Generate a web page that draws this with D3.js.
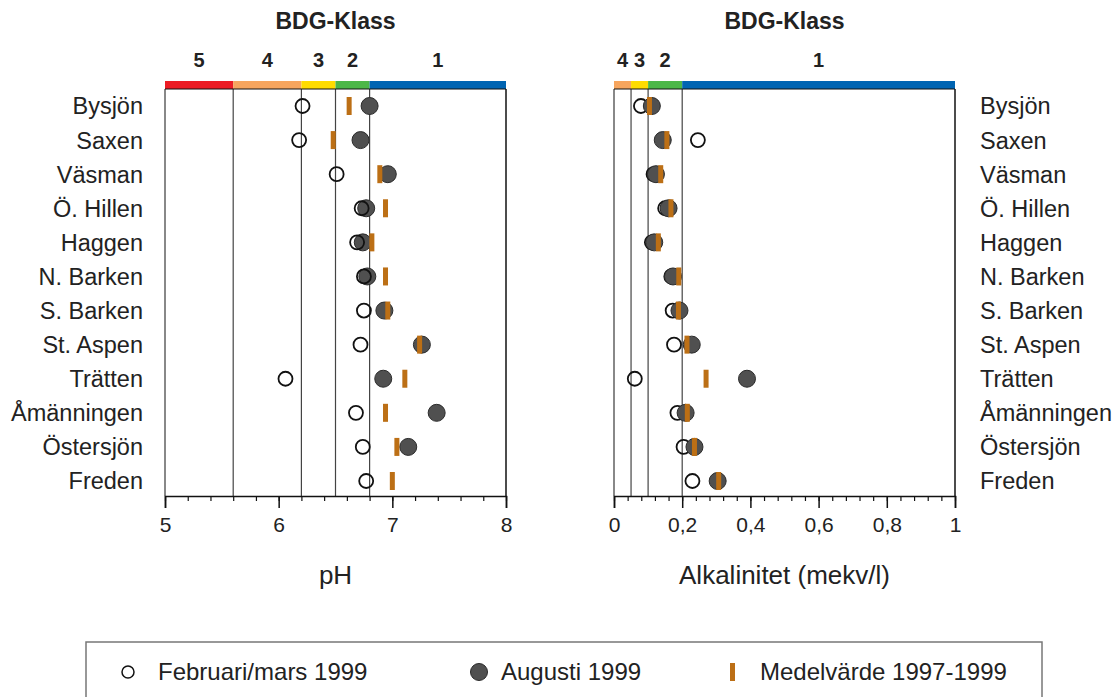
<!DOCTYPE html>
<html>
<head>
<meta charset="utf-8">
<script src="https://cdn.jsdelivr.net/npm/d3@7"></script>
<style>
  body { margin: 0; background: #fff; }
  svg text { font-family: "Liberation Sans", Arial, sans-serif; fill: #222; }
</style>
</head>
<body>
<svg id="chart" width="1119" height="697"></svg>
<script>
// Lakes, top to bottom
const lakes = ["Bysjön", "Saxen", "Väsman", "Ö. Hillen", "Haggen", "N. Barken",
  "S. Barken", "St. Aspen", "Trätten", "Åmänningen", "Östersjön", "Freden"];

// pH
const phFeb  = [6.21, 6.18, 6.51, 6.73, 6.69, 6.75, 6.75, 6.72, 6.06, 6.68, 6.74, 6.77];
const phAug  = [6.80, 6.72, 6.96, 6.77, 6.74, 6.78, 6.93, 7.26, 6.92, 7.39, 7.14, null];
const phMean = [6.62, 6.48, 6.89, 6.94, 6.82, 6.94, 6.96, 7.24, 7.11, 6.94, 7.04, 7.00];

// Alkalinity (mekv/l)
const alkFeb  = [0.079, 0.246, 0.116, 0.150, 0.111, 0.168, 0.172, 0.176, 0.061, 0.186, 0.204, 0.230];
const alkAug  = [0.111, 0.143, 0.123, 0.160, 0.118, 0.173, 0.192, 0.228, 0.390, 0.210, 0.236, 0.304];
const alkMean = [0.104, 0.155, 0.137, 0.167, 0.130, 0.190, 0.189, 0.214, 0.270, 0.215, 0.236, 0.307];

// BDG class bands
const phClasses  = [{k: "5", from: 5.0, to: 5.6}, {k: "4", from: 5.6, to: 6.2}, {k: "3", from: 6.2, to: 6.5},
                    {k: "2", from: 6.5, to: 6.8}, {k: "1", from: 6.8, to: 8.0}];
const alkClasses = [{k: "4", from: 0, to: 0.05}, {k: "3", from: 0.05, to: 0.1}, {k: "2", from: 0.1, to: 0.2},
                    {k: "1", from: 0.2, to: 1.0}];
const classColors = {"5": "#ec1c24", "4": "#f6a55e", "3": "#ffdc00", "2": "#4cb748", "1": "#0064b2"};

const phTicks  = [5, 6, 7, 8];
const alkTicks = [0, 0.2, 0.4, 0.6, 0.8, 1];
const legendItems = ["Februari/mars 1999", "Augusti 1999", "Medelvärde 1997-1999"];

const svg = d3.select("#chart");
const plotTop = 89, plotBottom = 496;
const y = d3.scalePoint().domain(lakes).range([106, 481]);

const fillDark = "#505050", strokeDark = "#2b2b2b", barColor = "#bc6f15";

function panel(opts) {
  const x = d3.scaleLinear().domain(opts.domain).range(opts.range);
  const g = svg.append("g");
  const cx = (opts.range[0] + opts.range[1]) / 2;

  // title and class numbers
  g.append("text").attr("x", cx).attr("y", 29).attr("text-anchor", "middle")
    .attr("font-size", 23).attr("font-weight", "bold").text("BDG-Klass");
  g.selectAll("text.cls").data(opts.classes).join("text").attr("class", "cls")
    .attr("x", d => (x(d.from) + x(d.to)) / 2).attr("y", 67).attr("text-anchor", "middle")
    .attr("font-size", 20).attr("font-weight", "bold").text(d => d.k);

  // class colour bar
  g.selectAll("rect.band").data(opts.classes).join("rect").attr("class", "band")
    .attr("x", d => x(d.from)).attr("width", d => x(d.to) - x(d.from))
    .attr("y", 81).attr("height", 8).attr("fill", d => classColors[d.k]);

  // class boundaries
  g.selectAll("line.bound").data(opts.classes.slice(1)).join("line").attr("class", "bound")
    .attr("x1", d => x(d.from)).attr("x2", d => x(d.from))
    .attr("y1", plotTop).attr("y2", plotBottom).attr("stroke", "#444").attr("stroke-width", 1.2);

  // frame edges
  g.append("line").attr("x1", opts.range[0]).attr("x2", opts.range[0]).attr("y1", plotTop).attr("y2", plotBottom)
    .attr("stroke", "#888").attr("stroke-width", 2);
  g.append("line").attr("x1", opts.range[1]).attr("x2", opts.range[1]).attr("y1", plotTop).attr("y2", plotBottom)
    .attr("stroke", "#111").attr("stroke-width", 1.5);
  g.append("line").attr("x1", opts.range[0]).attr("x2", opts.range[1]).attr("y1", plotTop).attr("y2", plotTop)
    .attr("stroke", "#111").attr("stroke-width", 1);

  // x axis: minor ticks, then major ticks with labels
  const minorAxis = g.append("g").attr("transform", `translate(0,${plotBottom})`)
    .call(d3.axisBottom(x).tickValues(opts.minor).tickSize(5).tickFormat(""));
  minorAxis.select(".domain").remove();
  minorAxis.selectAll(".tick line").attr("stroke", "#111").attr("stroke-width", 1.2);
  const major = g.append("g").attr("transform", `translate(0,${plotBottom})`)
    .call(d3.axisBottom(x).tickValues(opts.ticks).tickSize(12).tickPadding(9).tickFormat(opts.fmt));
  major.select(".domain").attr("stroke", "#111").attr("stroke-width", 1.5);
  major.selectAll(".tick line").attr("stroke", "#111").attr("stroke-width", 1.5);
  major.selectAll(".tick text").attr("font-size", 21).attr("fill", "#222")
    .attr("font-family", "Liberation Sans, Arial, sans-serif");

  g.append("text").attr("x", cx).attr("y", 584).attr("text-anchor", "middle")
    .attr("font-size", 26).text(opts.title);

  // lake names
  g.selectAll("text.lake").data(lakes).join("text").attr("class", "lake")
    .attr("x", opts.labelX).attr("y", d => y(d)).attr("dy", "0.36em")
    .attr("text-anchor", opts.labelAnchor).attr("font-size", 23.5).text(d => d);

  const rows = lakes.map((l, i) => ({lake: l, feb: opts.feb[i], aug: opts.aug[i], mean: opts.mean[i]}));

  const drawOpen = () => g.selectAll("circle.feb").data(rows.filter(d => d.feb != null)).join("circle")
    .attr("class", "feb").attr("cx", d => x(d.feb)).attr("cy", d => y(d.lake)).attr("r", 7)
    .attr("fill", "none").attr("stroke", "#111").attr("stroke-width", 1.8);
  const drawFilled = () => g.selectAll("circle.aug").data(rows.filter(d => d.aug != null)).join("circle")
    .attr("class", "aug").attr("cx", d => x(d.aug)).attr("cy", d => y(d.lake)).attr("r", 8.5)
    .attr("fill", fillDark).attr("stroke", strokeDark).attr("stroke-width", 1);

  if (opts.openOnTop) { drawFilled(); drawOpen(); } else { drawOpen(); drawFilled(); }

  g.selectAll("rect.mean").data(rows).join("rect").attr("class", "mean")
    .attr("x", d => x(d.mean) - 2.5).attr("y", d => y(d.lake) - 9)
    .attr("width", 5).attr("height", 18).attr("fill", barColor);
}

const comma = d3.formatLocale({decimal: ",", thousands: " ", grouping: [3], currency: ["", ""]});

panel({
  domain: [5, 8], range: [165, 506], classes: phClasses, ticks: phTicks,
  minor: d3.range(5, 8.0001, 0.2), fmt: d3.format("d"), title: "pH",
  labelX: 143, labelAnchor: "end", feb: phFeb, aug: phAug, mean: phMean, openOnTop: true
});
panel({
  domain: [0, 1], range: [614, 955], classes: alkClasses, ticks: alkTicks,
  minor: d3.range(0, 1.0001, 0.04), fmt: d => (d === 0 || d === 1) ? String(d) : comma.format(".1f")(d),
  title: "Alkalinitet (mekv/l)",
  labelX: 980, labelAnchor: "start", feb: alkFeb, aug: alkAug, mean: alkMean, openOnTop: false
});

// legend
const lg = svg.append("g");
lg.append("rect").attr("x", 86).attr("y", 642).attr("width", 956).attr("height", 70)
  .attr("fill", "none").attr("stroke", "#777").attr("stroke-width", 1.5);
const ly = 672;
lg.append("circle").attr("cx", 128).attr("cy", ly).attr("r", 6)
  .attr("fill", "none").attr("stroke", "#111").attr("stroke-width", 1.5);
lg.append("circle").attr("cx", 479).attr("cy", ly).attr("r", 8.5)
  .attr("fill", fillDark).attr("stroke", strokeDark);
lg.append("rect").attr("x", 730).attr("y", ly - 9).attr("width", 5).attr("height", 18).attr("fill", barColor);
const lx = [158, 501, 760];
lg.selectAll("text.leg").data(legendItems).join("text").attr("class", "leg")
  .attr("x", (d, i) => lx[i]).attr("y", ly).attr("dy", "0.35em").attr("font-size", 24).text(d => d);
</script>
</body>
</html>
